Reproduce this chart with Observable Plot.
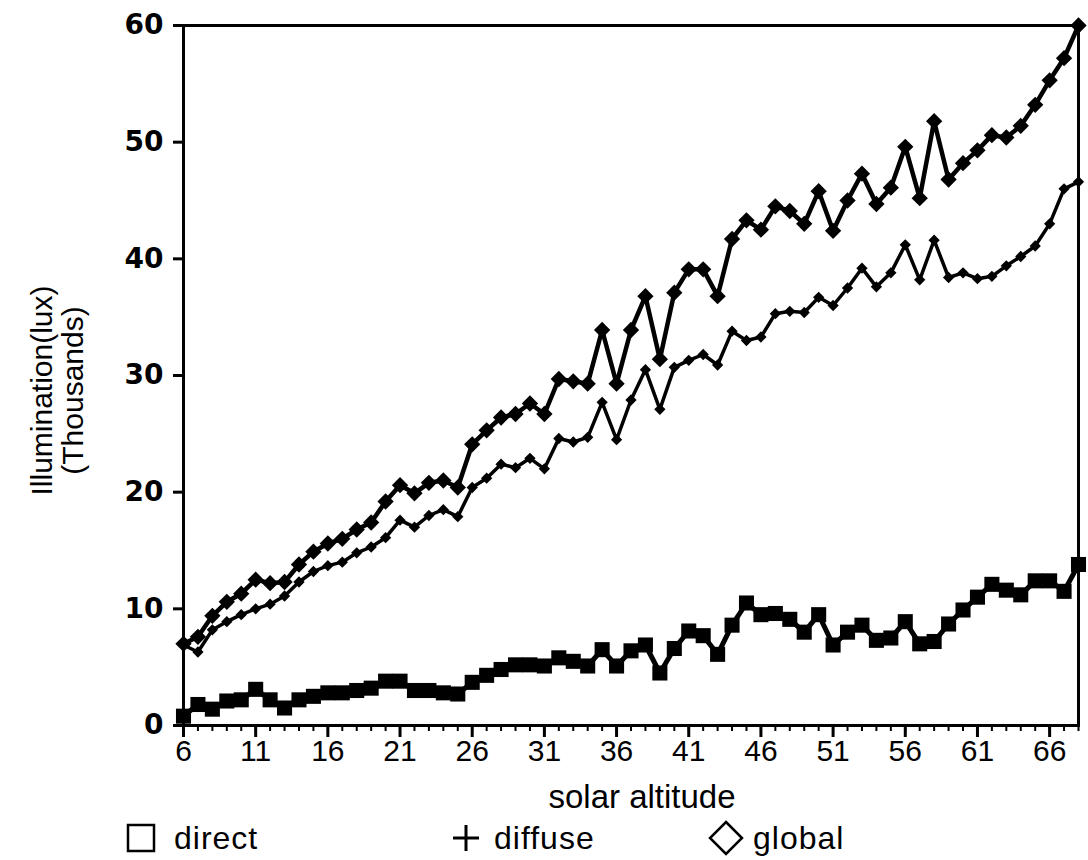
<!DOCTYPE html>
<html><head><meta charset="utf-8">
<script src="https://cdn.jsdelivr.net/npm/d3@7"></script>
<script src="https://cdn.jsdelivr.net/npm/@observablehq/plot@0.6"></script>
<style>
html,body{margin:0;padding:0;background:#fff;}
body{font-family:"Liberation Sans",Arial,sans-serif;color:#000;position:relative;width:1088px;height:860px;overflow:hidden;}
#chart{position:absolute;left:0;top:0;}
.leg{position:absolute;top:818px;height:40px;display:flex;align-items:center;font-size:32px;letter-spacing:1px;}
.ico{position:absolute;top:822px;}
</style></head><body>
<div id="chart"></div>
<svg class="ico" style="left:126px" width="32" height="32"><rect x="2" y="3" width="26" height="26" fill="none" stroke="#000" stroke-width="2.5"/></svg>
<div class="leg" style="left:174px">direct</div>
<svg class="ico" style="left:451px" width="32" height="32"><path d="M15 3V29M2 16H28" stroke="#000" stroke-width="3" fill="none"/></svg>
<div class="leg" style="left:494px">diffuse</div>
<svg class="ico" style="left:708px;top:820px" width="36" height="36"><path d="M18 2L34 18L18 34L2 18Z" stroke="#000" stroke-width="2.5" fill="none"/></svg>
<div class="leg" style="left:753px">global</div>
<script>
const altitude = [6,7,8,9,10,11,12,13,14,15,16,17,18,19,20,21,22,23,24,25,26,27,28,29,30,31,32,33,34,35,36,37,38,39,40,41,42,43,44,45,46,47,48,49,50,51,52,53,54,55,56,57,58,59,60,61,62,63,64,65,66,67,68];
const direct = [0.8,1.8,1.4,2.1,2.2,3.1,2.2,1.5,2.2,2.5,2.8,2.8,3.0,3.2,3.8,3.8,3.0,3.0,2.8,2.7,3.7,4.3,4.8,5.2,5.2,5.1,5.8,5.5,5.1,6.5,5.1,6.4,6.9,4.5,6.6,8.1,7.7,6.1,8.6,10.5,9.5,9.6,9.1,8.0,9.5,6.9,8.0,8.6,7.3,7.5,8.9,7.0,7.2,8.7,9.9,11.0,12.1,11.6,11.2,12.4,12.4,11.5,13.8];
const diffuse = [6.9,6.3,8.2,8.9,9.5,10.0,10.4,11.1,12.3,13.2,13.7,14.0,14.8,15.3,16.1,17.6,17.0,18.0,18.5,17.9,20.4,21.2,22.4,22.1,22.9,22.0,24.6,24.3,24.7,27.7,24.5,27.9,30.5,27.1,30.7,31.3,31.8,30.9,33.8,33.0,33.3,35.3,35.5,35.4,36.7,36.0,37.5,39.2,37.6,38.8,41.2,38.2,41.6,38.4,38.8,38.3,38.5,39.4,40.2,41.1,43.0,46.0,46.6];
const globalIll = [7.0,7.6,9.4,10.6,11.3,12.5,12.2,12.3,13.8,14.9,15.6,16.0,16.8,17.4,19.2,20.6,19.9,20.8,21.0,20.4,24.1,25.3,26.4,26.7,27.6,26.7,29.7,29.5,29.3,33.9,29.3,33.9,36.8,31.4,37.1,39.1,39.1,36.8,41.7,43.3,42.5,44.5,44.1,43.0,45.8,42.4,45.0,47.3,44.7,46.1,49.6,45.2,51.8,46.8,48.2,49.3,50.6,50.4,51.4,53.2,55.3,57.2,60.0];
const yTicks = [0,10,20,30,40,50,60];
const xTicks = [6,11,16,21,26,31,36,41,46,51,56,61,66];
const xLabel = "solar altitude";
const yLabel = "Illumination(lux)\n(Thousands)";

const rows = altitude.map((a, i) => ({a, direct: direct[i], diffuse: diffuse[i], global: globalIll[i]}));

const chart = Plot.plot({
  width: 1088, height: 815,
  marginTop: 25, marginBottom: 90, marginLeft: 183, marginRight: 10,
  x: {domain: [6, 68]},
  y: {domain: [0, 60]},
  style: {fontFamily: "Liberation Sans, Arial, sans-serif", background: "white", color: "black"},
  marks: [
    Plot.frame({stroke: "black", strokeWidth: 3}),
    Plot.axisY({ticks: yTicks, tickSize: 10, tickPadding: 10, fontSize: 28, fontFamily: "DejaVu Sans", fontWeight: "bold", label: null, strokeWidth: 3}),
    Plot.axisX({ticks: altitude, tickSize: 6, tickFormat: () => "", label: null, strokeWidth: 2}),
    Plot.axisX({ticks: xTicks, tickSize: 12, tickPadding: 2, fontSize: 30, label: null, strokeWidth: 3}),
    Plot.line(rows, {x: "a", y: "direct", stroke: "black", strokeWidth: 5}),
    Plot.dot(rows, {x: "a", y: "direct", symbol: "square", r: 8.5, fill: "black"}),
    Plot.line(rows, {x: "a", y: "diffuse", stroke: "black", strokeWidth: 3.5}),
    Plot.dot(rows, {x: "a", y: "diffuse", symbol: "square", rotate: 45, r: 4.5, fill: "black"}),
    Plot.line(rows, {x: "a", y: "global", stroke: "black", strokeWidth: 4.5}),
    Plot.dot(rows, {x: "a", y: "global", symbol: "square", rotate: 45, r: 6.5, fill: "black"}),
    Plot.text([xLabel], {text: d => d, frameAnchor: "bottom", lineAnchor: "middle", dx: 11, dy: 72, fontSize: 33, fill: "black", style: "letter-spacing:1.2px"}),
    Plot.text([yLabel], {text: d => d, frameAnchor: "left", textAnchor: "middle", lineAnchor: "middle", rotate: -90, dx: -126, dy: 15, fontSize: 30, lineHeight: 1.05, fill: "black"})
  ]
});
document.getElementById("chart").appendChild(chart);
</script>
</body></html>
